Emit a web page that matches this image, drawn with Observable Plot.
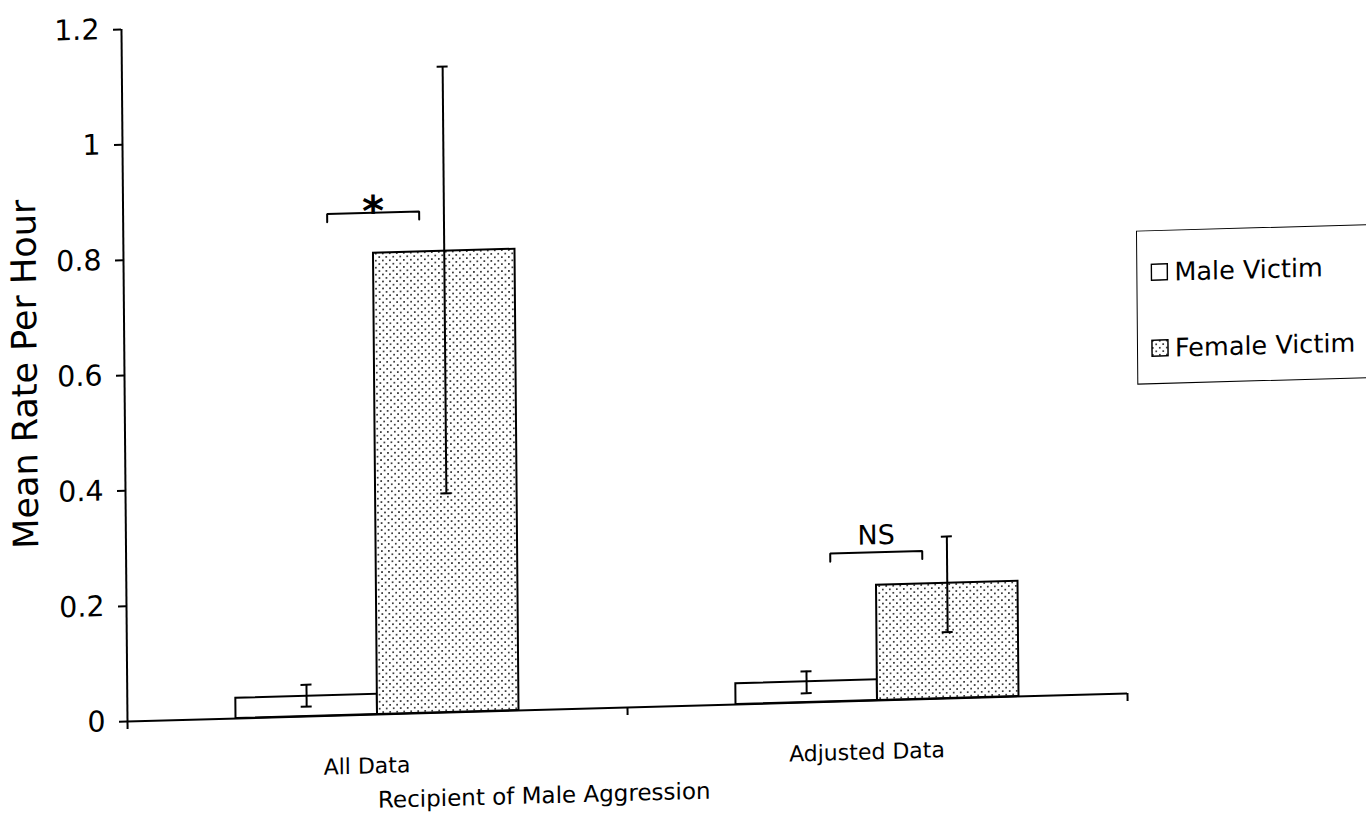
<!DOCTYPE html>
<html>
<head>
<meta charset="utf-8">
<script src="https://cdn.jsdelivr.net/npm/d3@7"></script>
<script src="https://cdn.jsdelivr.net/npm/@observablehq/plot@0.6"></script>
<style>
  html, body { margin: 0; padding: 0; background: #fff; overflow: hidden; width: 1366px; height: 819px; }
  /* the printed page sits slightly askew: a small shear around the chart origin */
  #sheet { position: absolute; left: 0; top: 0; width: 1366px; height: 819px;
           transform-origin: 127px 721px; transform: matrix(1, -0.028, 0.0087, 1, 0, 0); }
  #chart svg { display: block; }
  #legend { position: absolute; left: 1140px; top: 259px; width: 300px; height: 154px;
            border: 1.5px solid #000; box-sizing: border-box; background: #fff;
            font-family: "DejaVu Sans"; font-size: 25.5px; color: #000; }
  #legend .item { position: absolute; left: 13px; height: 30px; display: flex; align-items: center; white-space: nowrap; }
  #legend .item svg { margin-right: 6px; display: block; }
</style>
</head>
<body>
<div id="sheet">
  <div id="chart"></div>
  <div id="legend"></div>
</div>
<script>
// Groups on the x axis and the two victim series
const groups = ["All Data", "Adjusted Data"];
const series = ["Male Victim", "Female Victim"];

// Mean rate per hour and the ends of the error bars, one entry per group
const maleMean = [0.035, 0.036];
const maleLow = [0.017, 0.016];
const maleHigh = [0.055, 0.054];
const femaleMean = [0.80, 0.20];
const femaleLow = [0.38, 0.115];
const femaleHigh = [1.12, 0.281];

// Significance brackets between the two bars of each group
const sigLabels = ["*", "NS"];
const sigLevel = [0.87, 0.257];

// Value axis
const yTicks = [0, 0.2, 0.4, 0.6, 0.8, 1, 1.2];
const yTickLabels = ["0", "0.2", "0.4", "0.6", "0.8", "1", "1.2"];
const xTitle = "Recipient of Male Aggression";
const yTitle = "Mean Rate Per Hour";

// Layout of bars inside a group (in group-width units)
const barW = 0.283;
const capHalf = 0.011;
const bracketHalf = 0.092;
const footLen = 0.014;

const rows = groups.flatMap((g, gi) => series.map((s, si) => ({
  group: g, gi, series: s, si,
  mean: si === 0 ? maleMean[gi] : femaleMean[gi],
  lo: si === 0 ? maleLow[gi] : femaleLow[gi],
  hi: si === 0 ? maleHigh[gi] : femaleHigh[gi]
})));
const left = d => d.gi + 0.5 - (d.si === 0 ? barW : 0);
const right = d => d.gi + 0.5 + (d.si === 1 ? barW : 0);
const mid = d => d.gi + 0.5 + (d.si === 0 ? -barW / 2 : barW / 2);

const brackets = sigLevel.flatMap((y, gi) => [
  {gi, x: gi + 0.5 - bracketHalf, y: y - footLen},
  {gi, x: gi + 0.5 - bracketHalf, y},
  {gi, x: gi + 0.5 + bracketHalf, y},
  {gi, x: gi + 0.5 + bracketHalf, y: y - footLen}
]);

const ink = {stroke: "black", strokeWidth: 2};

const chart = Plot.plot({
  width: 1366,
  height: 819,
  marginLeft: 127,
  marginRight: 239,
  marginTop: 29,
  marginBottom: 98,
  style: {fontFamily: "DejaVu Sans", fontSize: "28px", color: "#000", background: "transparent", overflow: "visible"},
  x: {domain: [0, groups.length], axis: null},
  y: {domain: [0, 1.2], axis: null},
  marks: [
    Plot.rect(rows.filter(d => d.si === 0), {x1: left, x2: right, y1: 0, y2: "mean", fill: "white", ...ink}),
    Plot.rect(rows.filter(d => d.si === 1), {x1: left, x2: right, y1: 0, y2: "mean", fill: "url(#dots)", ...ink}),
    Plot.ruleX(rows, {x: mid, y1: "lo", y2: "hi", ...ink}),
    Plot.ruleY(rows, {y: "lo", x1: d => mid(d) - capHalf, x2: d => mid(d) + capHalf, ...ink}),
    Plot.ruleY(rows, {y: "hi", x1: d => mid(d) - capHalf, x2: d => mid(d) + capHalf, ...ink}),
    Plot.ruleY([0], ink),
    Plot.ruleX([0], ink),
    Plot.axisY({ticks: yTicks, tickFormat: d => yTickLabels[yTicks.indexOf(d)], tickSize: 8, tickPadding: 14,
                fontSize: 28.5, label: null, strokeWidth: 2}),
    Plot.axisX({ticks: d3.range(groups.length + 1), tickFormat: () => "", tickSize: 8, label: null, strokeWidth: 2}),
    Plot.text(groups, {x: (d, i) => i + 0.5, frameAnchor: "bottom", dx: -11, dy: 43, lineAnchor: "top", fontSize: 22}),
    Plot.line(brackets, {x: "x", y: "y", z: "gi", ...ink, strokeLinejoin: "miter"}),
    Plot.text(sigLabels, {filter: (d, i) => i === 0, x: (d, i) => i + 0.5, y: (d, i) => sigLevel[i],
                          lineAnchor: "bottom", dy: 13, fontSize: 42, fontWeight: "bold"}),
    Plot.text(sigLabels, {filter: (d, i) => i === 1, x: (d, i) => i + 0.5, y: (d, i) => sigLevel[i],
                          lineAnchor: "bottom", dy: -8, fontSize: 27}),
    Plot.text([xTitle], {frameAnchor: "bottom", dx: -84, dy: 86, lineAnchor: "middle", fontSize: 23}),
    Plot.text([yTitle], {frameAnchor: "left", rotate: -90, dx: -99, dy: -4, textAnchor: "middle",
                         lineAnchor: "middle", fontSize: 35})
  ]
});

// Dotted fill used by the female bars and their legend swatch
const defs = document.createElementNS("http://www.w3.org/2000/svg", "defs");
defs.innerHTML = `<pattern id="dots" width="7" height="7" patternUnits="userSpaceOnUse">
  <rect width="7" height="7" fill="#fff"></rect>
  <circle cx="1.75" cy="1.75" r="0.9" fill="#000"></circle>
  <circle cx="5.25" cy="5.25" r="0.9" fill="#000"></circle>
</pattern>`;
chart.prepend(defs);
document.getElementById("chart").append(chart);

// Legend box
const legend = document.getElementById("legend");
const legendFill = ["#fff", "url(#dots)"];
const rowCenter = [41, 117];
series.forEach((name, i) => {
  const item = document.createElement("div");
  item.className = "item";
  item.style.top = (rowCenter[i] - 15) + "px";
  item.innerHTML = `<svg width="18" height="18"><rect x="1" y="1" width="16" height="16" fill="${legendFill[i]}" stroke="#000" stroke-width="1.5"></rect></svg><span>${name}</span>`;
  legend.append(item);
});
</script>
</body>
</html>
